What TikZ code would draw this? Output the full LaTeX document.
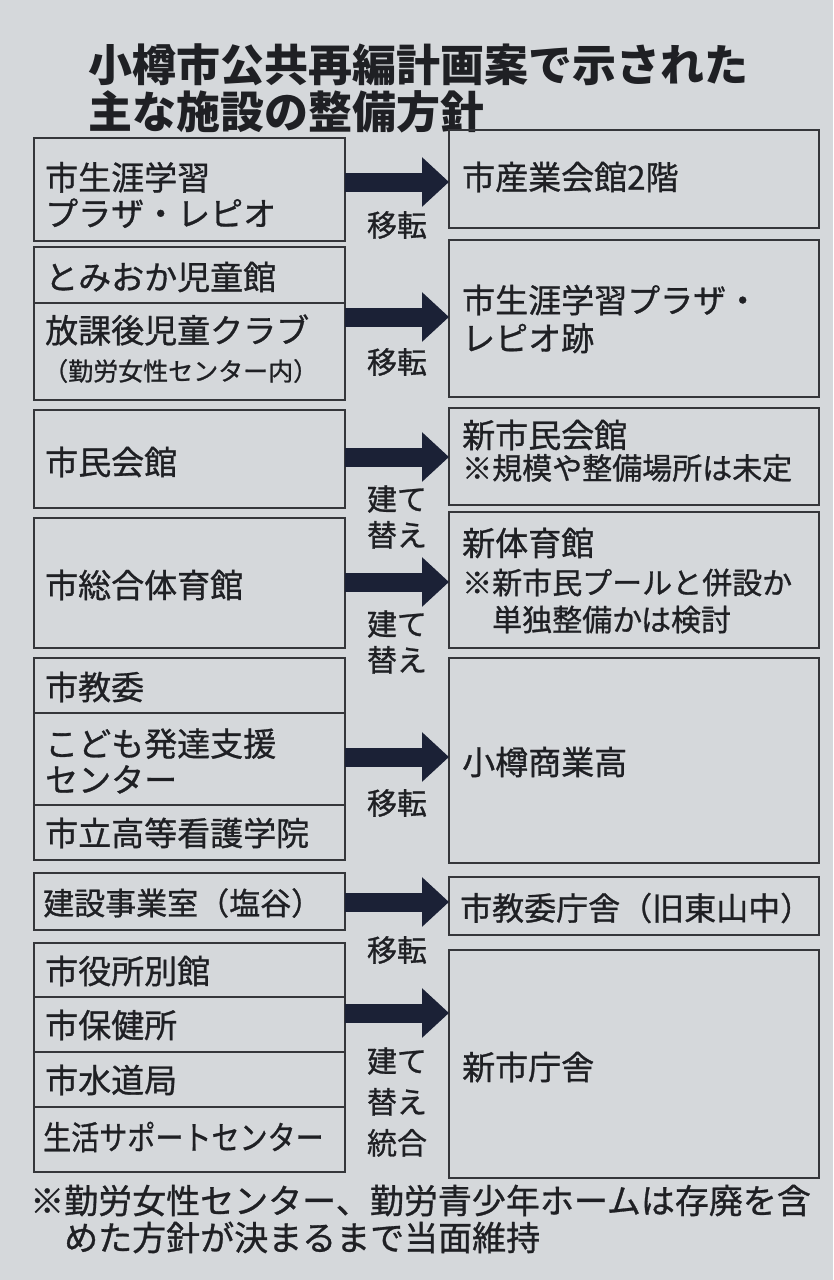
\documentclass[tikz,border=0pt]{standalone}
\usepackage{fontspec}
\setmainfont[FakeBold=0.9]{Noto Sans CJK JP}
\newfontfamily\titlefont{Noto Sans CJK JP}
\usetikzlibrary{arrows.meta}
\definecolor{paper}{HTML}{D5D8DB}
\definecolor{ink}{HTML}{1F2024}
\definecolor{navy}{HTML}{1B2136}
\tikzset{
  box/.style={draw=ink!90, line width=1.6pt, anchor=north west, inner sep=0pt, outer sep=0pt},
  txt/.style={text=ink, anchor=west, align=left, inner sep=0pt, font=\fontsize{33}{36}\selectfont},
  note/.style={text=ink, anchor=west, align=left, inner sep=0pt, font=\fontsize{30}{37}\selectfont},
  lbl/.style={text=ink, align=center, inner sep=0pt, font=\fontsize{30}{36}\selectfont},
  arr/.style={draw=navy, line width=19pt, -{Triangle[length=27pt,width=48pt]}},
}
\begin{document}
\begin{tikzpicture}[x=1pt,y=-1pt]
\fill[paper] (0,0) rectangle (833,1280);
\useasboundingbox (0,0) rectangle (833,1280);

% title
\node[text=ink, anchor=west, align=left, inner sep=0pt, font=\titlefont\fontsize{44}{47}\selectfont\bfseries] (title) at (88,88) {小樽市公共再編計画案で示された\\主な施設の整備方針};

% left boxes
\node[box, minimum width=311pt, minimum height=103pt] (L1) at (34,138) {};
\node[box, minimum width=311pt, minimum height=56pt] (L2a) at (34,247) {};
\node[box, minimum width=311pt, minimum height=97pt] (L2b) at (34,303) {};
\node[box, minimum width=311pt, minimum height=98pt] (L3) at (34,410) {};
\node[box, minimum width=311pt, minimum height=130pt] (L4) at (34,518) {};
\node[box, minimum width=311pt, minimum height=55pt] (L5a) at (34,658) {};
\node[box, minimum width=311pt, minimum height=92pt] (L5b) at (34,713) {};
\node[box, minimum width=311pt, minimum height=55pt] (L5c) at (34,805) {};
\node[box, minimum width=311pt, minimum height=57pt] (L6) at (34,873) {};
\node[box, minimum width=311pt, minimum height=54pt] (L7a) at (34,943) {};
\node[box, minimum width=311pt, minimum height=55pt] (L7b) at (34,997) {};
\node[box, minimum width=311pt, minimum height=55pt] (L7c) at (34,1052) {};
\node[box, minimum width=311pt, minimum height=65pt] (L7d) at (34,1107) {};

% right boxes
\node[box, minimum width=370pt, minimum height=98pt] (R1) at (449,130) {};
\node[box, minimum width=370pt, minimum height=157pt] (R2) at (449,240) {};
\node[box, minimum width=370pt, minimum height=97pt] (R3) at (449,408) {};
\node[box, minimum width=370pt, minimum height=136pt] (R4) at (449,512) {};
\node[box, minimum width=370pt, minimum height=205pt] (R5) at (449,658) {};
\node[box, minimum width=370pt, minimum height=58pt] (R6) at (449,877) {};
\node[box, minimum width=370pt, minimum height=228pt] (R7) at (449,950) {};

% left texts
\node[txt] (tL1) at (45,195) {市生涯学習\\プラザ・レピオ};
\node[txt] (tL2a) at (45,277) {とみおか児童館};
\node[txt] (tL2b) at (45,330) {放課後児童クラブ};
\node[txt, font=\fontsize{25}{28}\selectfont] (tL2c) at (43,371) {（勤労女性センター内）};
\node[txt] (tL3) at (45,462) {市民会館};
\node[txt] (tL4) at (45,585) {市総合体育館};
\node[txt] (tL5a) at (45,687) {市教委};
\node[txt] (tL5b) at (45,761) {こども発達支援\\センター};
\node[txt] (tL5c) at (45,833) {市立高等看護学院};
\node[txt, font=\fontsize{31}{34}\selectfont] (tL6) at (43,903) {建設事業室（塩谷）};
\node[txt] (tL7a) at (45,971) {市役所別館};
\node[txt] (tL7b) at (45,1025) {市保健所};
\node[txt] (tL7c) at (45,1080) {市水道局};
\node[txt] (tL7d) at (43,1137) {\scalebox{0.85}[1]{生活サポートセンター}};

% right texts
\node[txt] (tR1) at (462,177) {市産業会館2階};
\node[txt, font=\fontsize{33}{38}\selectfont] (tR2) at (462,319) {市生涯学習プラザ・\\レピオ跡};
\node[txt] (tR3) at (462,435) {新市民会館};
\node[note] (tR3n) at (462,468) {※規模や整備場所は未定};
\node[txt] (tR4) at (462,543) {新体育館};
\node[note] (tR4n) at (462,601) {※新市民プールと併設か\\\hspace{1em}単独整備かは検討};
\node[txt] (tR5) at (462,762) {小樽商業高};
\node[txt, font=\fontsize{32}{34}\selectfont] (tR6) at (460,908) {市教委庁舎（旧東山中）};
\node[txt] (tR7) at (462,1067) {新市庁舎};

% arrows
\coordinate (a1) at (0,182);
\coordinate (a2) at (0,317);
\coordinate (a3) at (0,457);
\coordinate (a4) at (0,582);
\coordinate (a5) at (0,757);
\coordinate (a6) at (0,902);
\coordinate (a7) at (0,1013);
\draw[arr] (L1.east |- a1) -- (R1.west |- a1);
\draw[arr] (L2b.east |- a2) -- (R2.west |- a2);
\draw[arr] (L3.east |- a3) -- (R3.west |- a3);
\draw[arr] (L4.east |- a4) -- (R4.west |- a4);
\draw[arr] (L5b.east |- a5) -- (R5.west |- a5);
\draw[arr] (L6.east |- a6) -- (R6.west |- a6);
\draw[arr] (L7b.east |- a7) -- (R7.west |- a7);

% arrow labels
\node[lbl] (m1) at (397,225) {移転};
\node[lbl] (m2) at (397,362) {移転};
\node[lbl] (m3) at (397,517) {建て\\替え};
\node[lbl] (m4) at (397,642) {建て\\替え};
\node[lbl] (m5) at (397,803) {移転};
\node[lbl] (m6) at (397,950) {移転};
\node[lbl, font=\fontsize{30}{41}\selectfont] (m7) at (397,1102) {建て\\替え\\統合};

% footnote
\node[text=ink, anchor=west, align=left, inner sep=0pt, font=\fontsize{34}{37}\selectfont] (foot) at (30,1219) {※勤労女性センター、勤労青少年ホームは存廃を含\\\hspace{1em}めた方針が決まるまで当面維持};
\end{tikzpicture}
\end{document}
